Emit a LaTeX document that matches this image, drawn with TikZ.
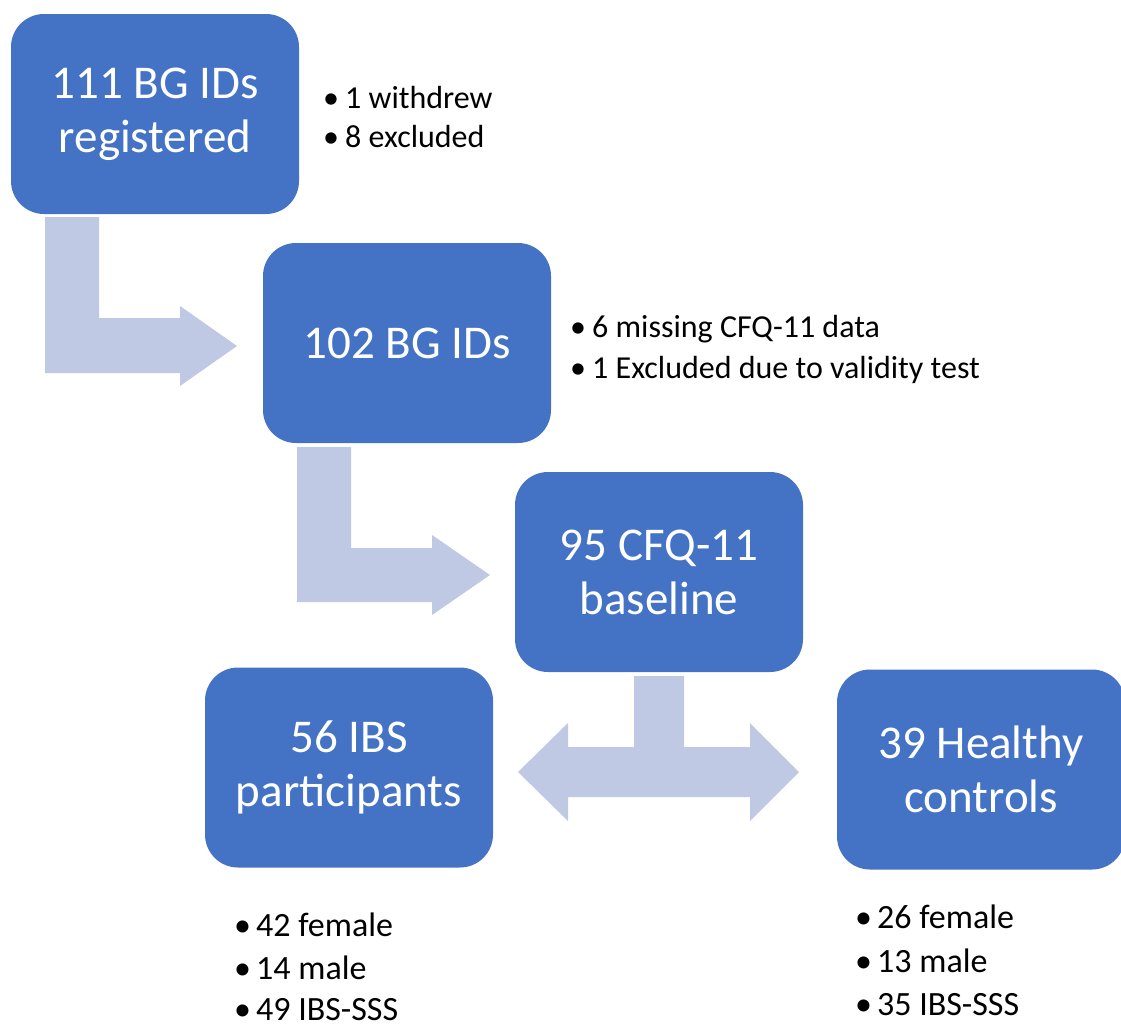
\documentclass[tikz,border=0pt]{standalone}
\usepackage{fontspec}
\setmainfont{Carlito}
\definecolor{boxblue}{RGB}{68,114,196}
\definecolor{arrowblue}{RGB}{192,201,227}
\newcommand\myitem[1]{\makebox[22pt][l]{•}#1}
\tikzset{
  flowbox/.style={rounded corners=33pt, minimum width=288pt, minimum height=200pt,
    fill=boxblue, text=white, align=center, inner sep=0pt,
    font=\fontsize{47}{54}\selectfont},
  bul/.style={anchor=base west, inner sep=0pt, text=black,
    font=\fontsize{32}{38}\selectfont},
  bulbig/.style={bul, font=\fontsize{34}{40}\selectfont},
  shapearrow/.style={fill=arrowblue, draw=none}
}
\begin{document}
\begin{tikzpicture}[x=1pt,y=-1pt]
\useasboundingbox (0,0) rectangle (1121,1028);
\clip (0,0) rectangle (1121,1028);
% connectors (block arrows)
\fill[shapearrow] (45,217) -- (99,217) -- (99,318) -- (180,318) -- (180,306) -- (237,346)
  -- (180,386) -- (180,373) -- (45,373) -- cycle;
\fill[shapearrow] (297,447) -- (351,447) -- (351,548) -- (432,548) -- (432,535) -- (490,575)
  -- (432,615) -- (432,602) -- (297,602) -- cycle;
\fill[shapearrow] (634,676) -- (684,676) -- (684,747) -- (750,747) -- (750,723) -- (799,772)
  -- (750,821) -- (750,797) -- (568,797) -- (568,821) -- (518,772) -- (568,723)
  -- (568,747) -- (634,747) -- cycle;
% boxes
\node[flowbox] (b1) at (155,114) {111 BG IDs\\registered};
\node[flowbox] (b2) at (407,343) {102 BG IDs};
\node[flowbox] (b3) at (659,572) {95 CFQ-11\\baseline};
\node[flowbox] (b4) at (349,767.5) {56 IBS\\participants};
\node[flowbox] (b5) at (981,769.5) {39 Healthy\\controls};
% bullet lists
\node[bul] (l1a) at (323,108) {\myitem{1 withdrew}};
\node[bul] (l1b) at (323,147) {\myitem{8 excluded}};
\node[bul] (l2a) at (570,337) {\myitem{6 missing CFQ-11 data}};
\node[bul] (l2b) at (570,378) {\myitem{1 Excluded due to validity test}};
\node[bulbig] (l4a) at (234,936) {\myitem{42 female}};
\node[bulbig] (l4b) at (234,979) {\myitem{14 male}};
\node[bulbig] (l4c) at (234,1020) {\myitem{49 IBS-SSS}};
\node[bulbig] (l5a) at (855,928) {\myitem{26 female}};
\node[bulbig] (l5b) at (855,972) {\myitem{13 male}};
\node[bulbig] (l5c) at (855,1015) {\myitem{35 IBS-SSS}};
\end{tikzpicture}
\end{document}
